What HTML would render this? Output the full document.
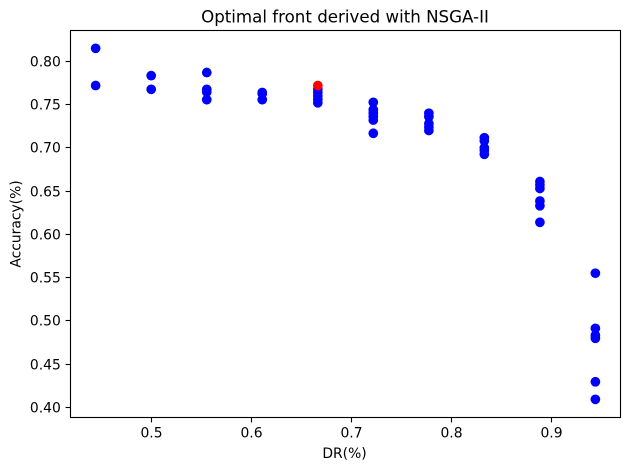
<!DOCTYPE html>
<html>
<head>
<meta charset="utf-8">
<style>
html,body{margin:0;padding:0;background:#fff;}
svg{display:block;}
text{font-family:"DejaVu Sans",sans-serif;fill:#000;}
</style>
</head>
<body>
<svg id="chart" xmlns="http://www.w3.org/2000/svg" width="630" height="470" viewBox="0 0 630 470">
<rect x="0" y="0" width="630" height="470" fill="#fff"/>
<text x="345" y="22.5" font-size="16.67" text-anchor="middle">Optimal front derived with NSGA-II</text>
<text x="344.5" y="458" font-size="13.89" text-anchor="middle">DR(%)</text>
<text transform="translate(20.5,224) rotate(-90)" font-size="13.89" text-anchor="middle">Accuracy(%)</text>
<g id="marks"></g>
<g id="axes"></g>
<rect x="70.5" y="30.5" width="550" height="387" fill="none" stroke="#000" stroke-width="1.11"/>
</svg>
<script>
var dr = [
  0.4444, 0.4444,
  0.5, 0.5,
  0.5556, 0.5556, 0.5556, 0.5556,
  0.6111, 0.6111, 0.6111,
  0.6667, 0.6667, 0.6667, 0.6667, 0.6667,
  0.7222, 0.7222, 0.7222, 0.7222, 0.7222, 0.7222,
  0.7778, 0.7778, 0.7778, 0.7778, 0.7778,
  0.8333, 0.8333, 0.8333, 0.8333, 0.8333,
  0.8889, 0.8889, 0.8889, 0.8889, 0.8889, 0.8889,
  0.9444, 0.9444, 0.9444, 0.9444, 0.9444, 0.9444
];
var accuracy = [
  0.815, 0.772,
  0.7834, 0.7676,
  0.787, 0.7676, 0.7645, 0.7556,
  0.764, 0.7625, 0.7556,
  0.768, 0.764, 0.76, 0.756, 0.752,
  0.7526, 0.744, 0.74, 0.736, 0.732, 0.7168,
  0.74, 0.736, 0.728, 0.724, 0.72,
  0.7117, 0.708, 0.7, 0.697, 0.6925,
  0.661, 0.657, 0.653, 0.6385, 0.633, 0.6139,
  0.555, 0.4913, 0.4832, 0.4798, 0.4295, 0.4092
];
var bestDr = [0.6667];
var bestAccuracy = [0.772];
var xTicks = [0.5, 0.6, 0.7, 0.8, 0.9];
var yTicks = [0.40, 0.45, 0.50, 0.55, 0.60, 0.65, 0.70, 0.75, 0.80];

var NS = 'http://www.w3.org/2000/svg';
function xScale(v){ return 151.2 + (v - 0.5) * 999.5; }
function yScale(v){ return 61.3 + (0.8 - v) * 865; }
function snap(p){ return Math.floor(p) + 0.5; }

var marks = document.getElementById('marks');
var axes = document.getElementById('axes');

function addPoint(x, y, color, label){
  var c = document.createElementNS(NS, 'circle');
  c.setAttribute('cx', xScale(x));
  c.setAttribute('cy', yScale(y));
  c.setAttribute('r', 4.86);
  c.setAttribute('fill', color);
  
  
  marks.appendChild(c);
}
dr.forEach(function(x, i){ addPoint(x, accuracy[i], '#0000ff', 'pareto-point'); });
bestDr.forEach(function(x, i){ addPoint(x, bestAccuracy[i], '#ff0000', 'selected-point'); });

xTicks.forEach(function(v){
  var px = snap(xScale(v));
  var t = document.createElementNS(NS, 'line');
  t.setAttribute('x1', px);
  t.setAttribute('x2', px);
  t.setAttribute('y1', 417.5);
  t.setAttribute('y2', 422.4);
  t.setAttribute('stroke', '#000');
  t.setAttribute('stroke-width', 1.11);
  
  
  axes.appendChild(t);
  var l = document.createElementNS(NS, 'text');
  l.setAttribute('x', px);
  l.setAttribute('y', 437.5);
  l.setAttribute('font-size', 13.89);
  l.setAttribute('text-anchor', 'middle');
  l.textContent = v.toFixed(1);
  
  
  axes.appendChild(l);
});
yTicks.forEach(function(v){
  var py = snap(yScale(v));
  var t = document.createElementNS(NS, 'line');
  t.setAttribute('x1', 65.6);
  t.setAttribute('x2', 70.5);
  t.setAttribute('y1', py);
  t.setAttribute('y2', py);
  t.setAttribute('stroke', '#000');
  t.setAttribute('stroke-width', 1.11);
  
  
  axes.appendChild(t);
  var l = document.createElementNS(NS, 'text');
  l.setAttribute('x', 60.8);
  l.setAttribute('y', py + 5);
  l.setAttribute('font-size', 13.89);
  l.setAttribute('text-anchor', 'end');
  l.textContent = v.toFixed(2);
  
  
  axes.appendChild(l);
});
</script>
</body>
</html>
